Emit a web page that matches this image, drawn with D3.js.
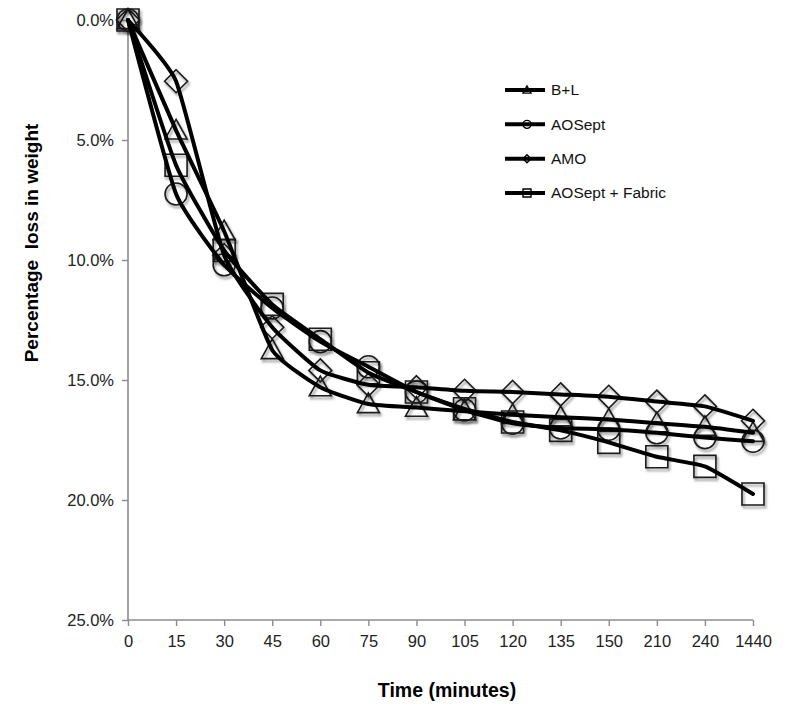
<!DOCTYPE html>
<html>
<head>
<meta charset="utf-8">
<script src="https://cdn.jsdelivr.net/npm/d3@7"></script>
<style>
  html, body { margin: 0; padding: 0; background: #fff; }
  svg { display: block; font-family: "Liberation Sans", Arial, Helvetica, sans-serif; }
</style>
</head>
<body>
<svg id="chart" width="800" height="715"></svg>
<script>
// ---- data ----
const timeLabels = ["0","15","30","45","60","75","90","105","120","135","150","210","240","1440"];
const bl      = [0, 4.6, 8.8, 13.75, 15.3, 16.0, 16.15, 16.3, 16.45, 16.55, 16.65, 16.8, 16.95, 17.2];
const aosept  = [0, 7.25, 10.2, 12.0, 13.4, 14.45, 15.5, 16.25, 16.8, 17.0, 17.05, 17.2, 17.4, 17.55];
const amo     = [0, 2.55, 9.8, 12.8, 14.6, 15.2, 15.3, 15.45, 15.5, 15.6, 15.7, 15.9, 16.1, 16.7];
const fabric  = [0, 6.05, 9.6, 11.85, 13.3, 14.7, 15.5, 16.2, 16.75, 17.1, 17.6, 18.2, 18.6, 19.75];
const seriesNames = ["B+L", "AOSept", "AMO", "AOSept + Fabric"];
const yTicks = [0, 5, 10, 15, 20, 25];

const series = [
  {name: seriesNames[0], values: bl, shape: "triangle"},
  {name: seriesNames[1], values: aosept, shape: "circle"},
  {name: seriesNames[2], values: amo, shape: "diamond"},
  {name: seriesNames[3], values: fabric, shape: "square"}
];

// ---- layout ----
const svg = d3.select("#chart");
const x = d3.scalePoint().domain(timeLabels).range([128, 753]).padding(0);
const y = d3.scaleLinear().domain([0, 25]).range([20, 620]);

const defs = svg.append("defs");
const f = defs.append("filter").attr("id", "shadow").attr("x", "-50%").attr("y", "-50%").attr("width", "200%").attr("height", "200%");
f.append("feDropShadow").attr("dx", 1.5).attr("dy", 2.5).attr("stdDeviation", 1.3)
  .attr("flood-color", "#000").attr("flood-opacity", 0.45);

// ---- axes ----
const axisColor = "#8c8c8c";
const yAxis = svg.append("g").attr("transform", "translate(128,0)")
  .call(d3.axisLeft(y).tickValues(yTicks).tickSize(6).tickPadding(8).tickFormat(d => d3.format(".1f")(d) + "%"));
const xAxis = svg.append("g").attr("transform", "translate(0,620)")
  .call(d3.axisBottom(x).tickSize(6).tickPadding(9));
[yAxis, xAxis].forEach(a => {
  a.select(".domain").attr("stroke", axisColor).attr("stroke-width", 1.6);
  a.selectAll(".tick line").attr("stroke", axisColor).attr("stroke-width", 1.4);
  a.selectAll(".tick text").attr("fill", "#222").style("font-size", "16.5px")
    .style("font-family", "'Liberation Sans', Arial, sans-serif");
});
xAxis.select(".domain").attr("d", "M128,0H753");
yAxis.select(".domain").attr("d", "M0,20V620");

// axis titles
svg.append("text").attr("x", 447).attr("y", 697).attr("text-anchor", "middle")
  .style("font-size", "19.5px").style("font-weight", "bold").attr("fill", "#000")
  .text("Time (minutes)");
svg.append("text").attr("transform", "translate(38,243) rotate(-90)").attr("text-anchor", "middle")
  .style("font-size", "19px").style("font-weight", "bold").style("white-space", "pre").attr("fill", "#000")
  .text("Percentage  loss in weight");

// ---- markers ----
function shapePath(shape, r) {
  if (shape === "square") return `M${-r},${-r}H${r}V${r}H${-r}Z`;
  if (shape === "diamond") return `M0,${-r}L${r},0L0,${r}L${-r},0Z`;
  if (shape === "triangle") return `M0,${-r}L${r},${r * 0.78}L${-r},${r * 0.78}Z`;
  return `M${r},0A${r},${r} 0 1,1 ${-r},0A${r},${r} 0 1,1 ${r},0Z`;
}
const markerR = {square: 11, circle: 11, diamond: 11.5, triangle: 11};

const line = d3.line().x((d, i) => x(timeLabels[i])).y(d => y(d)).curve(d3.curveCardinal.tension(0.55));

const g = svg.append("g");
series.forEach(s => {
  g.append("g").selectAll("path").data(s.values).join("path")
    .attr("transform", (d, i) => `translate(${x(timeLabels[i])},${y(d)})`)
    .attr("d", shapePath(s.shape, markerR[s.shape]))
    .attr("fill", "none").attr("stroke", "#1a1a1a").attr("stroke-width", 1.6)
    .attr("filter", "url(#shadow)");
});
series.forEach(s => {
  g.append("path").datum(s.values).attr("d", line)
    .attr("fill", "none").attr("stroke", "#000").attr("stroke-width", 4)
    .attr("stroke-linejoin", "round").attr("stroke-linecap", "round");
});

// ---- legend ----
const legendY = d3.scalePoint().domain(seriesNames).range([90, 193]);
const lg = svg.append("g");
series.forEach(s => {
  const yy = legendY(s.name);
  lg.append("line").attr("x1", 505).attr("x2", 545).attr("y1", yy).attr("y2", yy)
    .attr("stroke", "#000").attr("stroke-width", 4);
  lg.append("path").attr("transform", `translate(527,${yy})`)
    .attr("d", shapePath(s.shape, 4)).attr("fill", "none").attr("stroke", "#000").attr("stroke-width", 1.4);
  lg.append("text").attr("x", 551).attr("y", yy).attr("dy", "0.35em")
    .style("font-size", "15.5px").attr("fill", "#111").text(s.name);
});
</script>
</body>
</html>
